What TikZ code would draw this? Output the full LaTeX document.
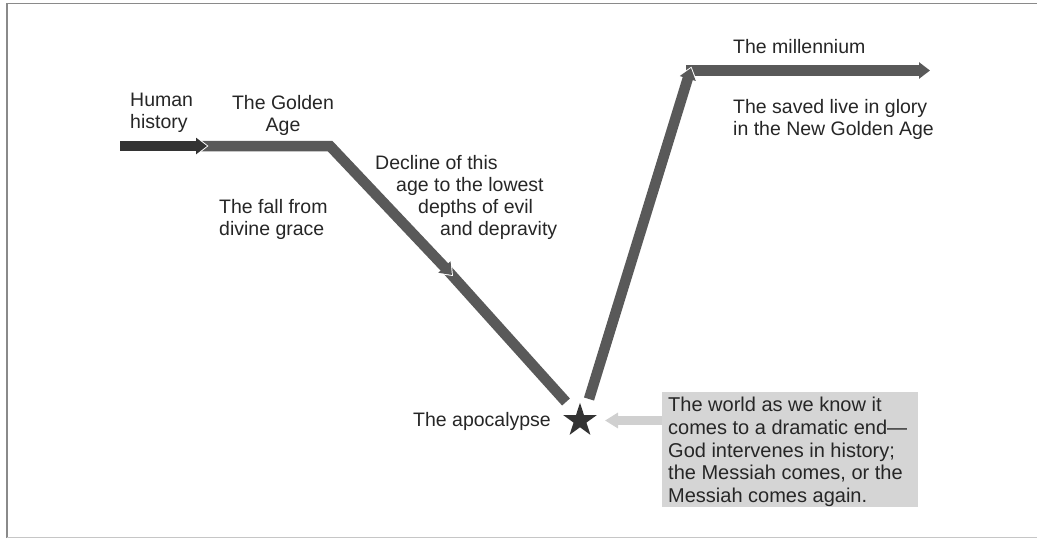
\documentclass[tikz,border=0pt]{standalone}
\usepackage{fontspec}
\setmainfont{Liberation Sans}
\usetikzlibrary{arrows.meta,shapes.geometric}
\definecolor{darkbar}{HTML}{333333}
\definecolor{midbar}{HTML}{595959}
\definecolor{txt}{HTML}{262626}
\definecolor{boxfill}{HTML}{D5D5D5}
\definecolor{lightbar}{HTML}{D0D0D0}
\definecolor{framec}{HTML}{8A8A8A}
\tikzset{
  lbl/.style={font=\fontsize{19.5}{22}\selectfont, text=txt, inner sep=0pt, align=left},
  bar/.style={line width=10.5pt, line join=miter, line cap=butt, -{Triangle[width=16pt,length=11pt]}},
  halo/.style={draw=white, line width=13pt, line join=miter, line cap=butt, -{Triangle[width=20pt,length=13.5pt]}, shorten >=-1.5pt},
  plainbar/.style={line width=10.5pt, line cap=butt},
}
\begin{document}
\begin{tikzpicture}[x=1pt,y=-1pt]
\useasboundingbox (0,0) rectangle (1037,539);
% frame
\draw[framec, line width=1.3pt] (7,538) -- (7,3.5) -- (1037,3.5);
\draw[gray!45, line width=1pt] (7,537) -- (1037,537);

% coordinates
\coordinate (a0) at (120,146);
\coordinate (a1) at (207,146);
\coordinate (b0) at (197,146);
\coordinate (g1) at (330,146);
\coordinate (d1) at (452,275);
\coordinate (c0) at (445,267.5);
\coordinate (c1) at (566,402);
\coordinate (u0) at (589,399);
\coordinate (u1) at (691,68);
\coordinate (e0) at (686,70.5);
\coordinate (e1) at (930,70.5);
\coordinate (lt) at (605,420.5);

% star
\node[star, star points=5, star point ratio=2.62, fill=darkbar, minimum size=35.5pt, inner sep=0pt] (star) at (580,420.5) {};

% millennium bar
\draw[bar, midbar] (e0) -- (e1);
% ascent
\draw[halo] (u0) -- (u1);
\draw[bar, midbar] (u0) -- (u1);
% decline (lower part)
\draw[plainbar, midbar] (c0) -- (c1);
% golden age + decline (upper part)
\draw[halo] (b0) -- (g1) -- (d1);
\draw[bar, midbar] (b0) -- (g1) -- (d1);
% human history
\draw[halo] (a0) -- (a1);
\draw[bar, darkbar] (a0) -- (a1);

% labels
\node[lbl, anchor=north west] (hh) at (130,93) {Human\\history};
\node[lbl, anchor=north, align=center] (ga) at (283,95) {The Golden\\Age};
\node[lbl, anchor=north west] (fall) at (219,199) {The fall from\\divine grace};
\node[lbl, anchor=north west] (dec) at (375,155) {Decline of this\\\hspace*{21pt}age to the lowest\\\hspace*{43pt}depths of evil\\\hspace*{65pt}and depravity};
\node[lbl, anchor=north west] (apo) at (413,412) {The apocalypse};
\node[lbl, anchor=north west] (mil) at (733,39) {The millennium};
\node[lbl, anchor=north west] (saved) at (733,99) {The saved live in glory\\in the New Golden Age};

% box
\node[fill=boxfill, anchor=north west, minimum width=256pt, minimum height=115pt, inner sep=0pt] (box) at (662,392) {};
\node[anchor=north west, inner sep=0pt, align=left, font=\fontsize{20}{22.75}\selectfont, text=txt] (boxtxt) at (668,397)
  {The world as we know it\\comes to a dramatic end---\\God intervenes in history;\\the Messiah comes, or the\\Messiah comes again.};
\draw[lightbar, line width=9pt, -{Triangle[width=15pt,length=13pt]}] (box.west |- star.center) -- (lt);
\end{tikzpicture}
\end{document}
